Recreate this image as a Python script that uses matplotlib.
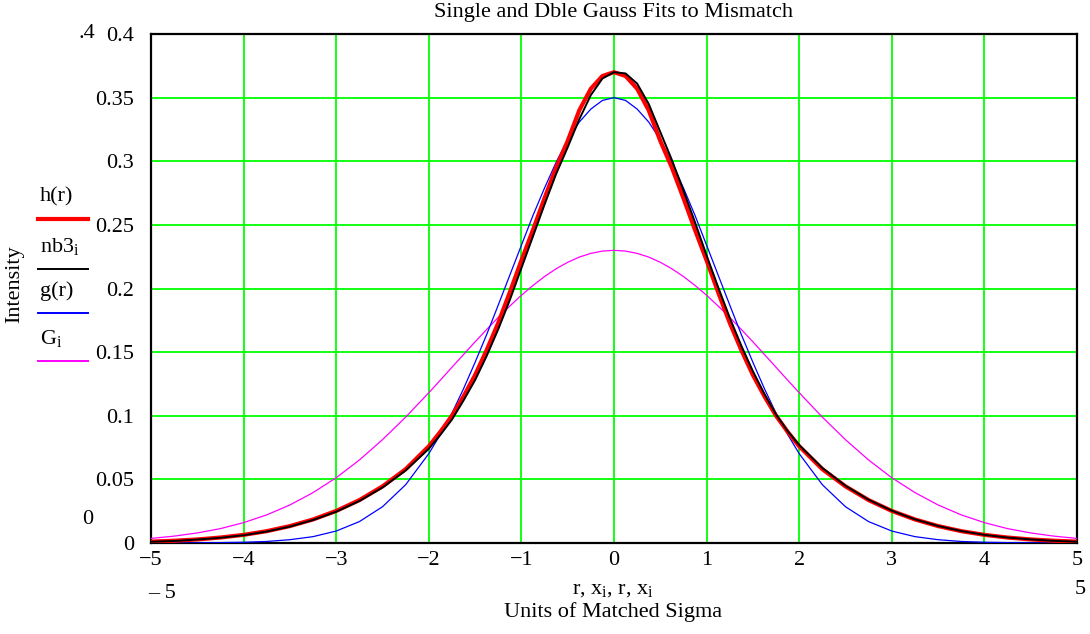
import matplotlib
matplotlib.use('Agg')
import matplotlib.pyplot as plt
from matplotlib.lines import Line2D
import numpy as np

plt.rcParams['font.family'] = ['Liberation Serif', 'DejaVu Serif']

# sample points, units of matched sigma: coarse in the tails, finer in the core
r = np.concatenate([np.arange(-5, -2.2, 0.25),
                    np.arange(-2, 2.01, 0.125),
                    np.arange(2.25, 5.01, 0.25)])

# double gauss fit h(r)
h = [0.0011, 0.0018, 0.0028, 0.0043, 0.0064, 0.0093, 0.0133, 0.0185, 0.0252, 0.0337, 0.0445, 0.058,
     0.076, 0.0874, 0.100, 0.1152, 0.132, 0.1516, 0.173, 0.197, 0.222, 0.246, 0.271, 0.295, 0.316,
     0.340, 0.357, 0.367, 0.370,
     0.367, 0.357, 0.340, 0.316, 0.295, 0.271, 0.246, 0.222, 0.197, 0.173, 0.1516, 0.132, 0.1152,
     0.100, 0.0874, 0.076,
     0.058, 0.0445, 0.0337, 0.0252, 0.0185, 0.0133, 0.0093, 0.0064, 0.0043, 0.0028, 0.0018, 0.0011]

# mismatched distribution nb3
nb3 = [0.0010, 0.0016, 0.0027, 0.0041, 0.0061, 0.0090, 0.0129, 0.0181, 0.0246, 0.0330, 0.0436, 0.057,
       0.074, 0.085, 0.097, 0.112, 0.128, 0.147, 0.168, 0.191, 0.216, 0.241, 0.266, 0.290, 0.311,
       0.333, 0.352, 0.365, 0.370,
       0.369, 0.361, 0.345, 0.323, 0.301, 0.277, 0.252, 0.226, 0.201, 0.177, 0.155, 0.135, 0.117,
       0.101, 0.088, 0.077,
       0.059, 0.0450, 0.0340, 0.0254, 0.0186, 0.0134, 0.0094, 0.0064, 0.0043, 0.0028, 0.0017, 0.0010]

# single gauss fit g(r)
g = [0.0, 0.0, 0.0001, 0.0003, 0.0006, 0.0012, 0.0026, 0.0050, 0.0094, 0.0168, 0.0285, 0.0458,
     0.0702, 0.0853, 0.102, 0.1212, 0.142, 0.1638, 0.187, 0.2105, 0.234, 0.2574, 0.279, 0.2992, 0.317,
     0.3308, 0.341, 0.3478, 0.350,
     0.3478, 0.341, 0.3308, 0.317, 0.2992, 0.279, 0.2574, 0.234, 0.2105, 0.187, 0.1638, 0.142, 0.1212,
     0.102, 0.0853, 0.0702,
     0.0458, 0.0285, 0.0168, 0.0094, 0.0050, 0.0026, 0.0012, 0.0006, 0.0003, 0.0001, 0.0, 0.0]

# matched gaussian G
G = [0.0036, 0.0054, 0.0079, 0.0113, 0.0160, 0.0221, 0.0299, 0.0396, 0.0513, 0.0652, 0.0812, 0.0989,
     0.1181, 0.1280, 0.1381, 0.1481, 0.1581, 0.1678, 0.1773, 0.1862, 0.1947, 0.2024, 0.2094, 0.2155,
     0.2206, 0.2247, 0.2276, 0.2294, 0.230,
     0.2294, 0.2276, 0.2247, 0.2206, 0.2155, 0.2094, 0.2024, 0.1947, 0.1862, 0.1773, 0.1678, 0.1581,
     0.1481, 0.1381, 0.1280, 0.1181,
     0.0989, 0.0812, 0.0652, 0.0513, 0.0396, 0.0299, 0.0221, 0.0160, 0.0113, 0.0079, 0.0054, 0.0036]

xticks = [-5, -4, -3, -2, -1, 0, 1, 2, 3, 4, 5]
yticks = [0, 0.05, 0.1, 0.15, 0.2, 0.25, 0.3, 0.35, 0.4]
ylabels = ['0', '0.05', '0.1', '0.15', '0.2', '0.25', '0.3', '0.35', '0.4']

W, H = 1090, 634
fig = plt.figure(figsize=(W / 100, H / 100), dpi=100)
ax = fig.add_axes([151 / W, 1 - 543 / H, (1077 - 151) / W, (543 - 34) / H])

ax.plot(r, G, color='#ff00ff', lw=0.9, zorder=3)
ax.plot(r, g, color='#0000ff', lw=0.9, zorder=3)
ax.plot(r, h, color='#ff0000', lw=3.0, zorder=4)
ax.plot(r, nb3, color='black', lw=1.4, zorder=5)

ax.set_xlim(-5, 5)
ax.set_ylim(0, 0.4)
ax.set_xticks(xticks)
ax.set_xticklabels([str(t).replace('-', '\u2212') for t in xticks])
ax.set_yticks(yticks)
ax.set_yticklabels(ylabels)
ax.grid(True, color='#00ff00', lw=1.3, zorder=1)
ax.set_axisbelow(True)
ax.tick_params(length=0, labelsize=16, colors='black')
ax.tick_params(axis='y', pad=12)
ax.tick_params(axis='x', pad=6)
for s in ax.spines.values():
    s.set_color('black')
    s.set_linewidth(1.6)

fs = 16
# title and axis texts
fig.text(613 / W, 1 - 12 / H, 'Single and Dble Gauss Fits to Mismatch', ha='center', va='center', fontsize=16)
fig.text(613 / W, 1 - 590 / H, r'r, x$_\mathregular{i}$, r, x$_\mathregular{i}$', ha='center', va='center', fontsize=fs)
fig.text(613 / W, 1 - 612 / H, 'Units of Matched Sigma', ha='center', va='center', fontsize=fs)
fig.text(15 / W, 1 - 284 / H, 'Intensity', rotation=90, ha='center', va='center', fontsize=fs)

# axis limit markers
fig.text(95 / W, 1 - 34 / H, '.4', ha='right', va='center', fontsize=fs)
fig.text(88 / W, 1 - 519 / H, '0', ha='center', va='center', fontsize=fs)
fig.text(162 / W, 1 - 593 / H, '\u2013 5', ha='center', va='center', fontsize=fs)
fig.text(1080 / W, 1 - 590 / H, '5', ha='center', va='center', fontsize=fs)

# trace legend on the left
entries = [('h(r)', '#ff0000', 3.0, 219),
           (r'nb3$_\mathregular{i}$', 'black', 1.4, 269),
           ('g(r)', '#0000ff', 1.4, 313),
           (r'G$_\mathregular{i}$', '#ff00ff', 1.4, 361)]
for label, col, lw, ypx in entries:
    fig.text(40 / W, 1 - (ypx - 22) / H, label, ha='left', va='center', fontsize=fs)
    fig.add_artist(Line2D([38 / W, 88 / W], [1 - ypx / H, 1 - ypx / H],
                          transform=fig.transFigure, color=col, lw=lw))

fig.savefig('out.png', dpi=100)
